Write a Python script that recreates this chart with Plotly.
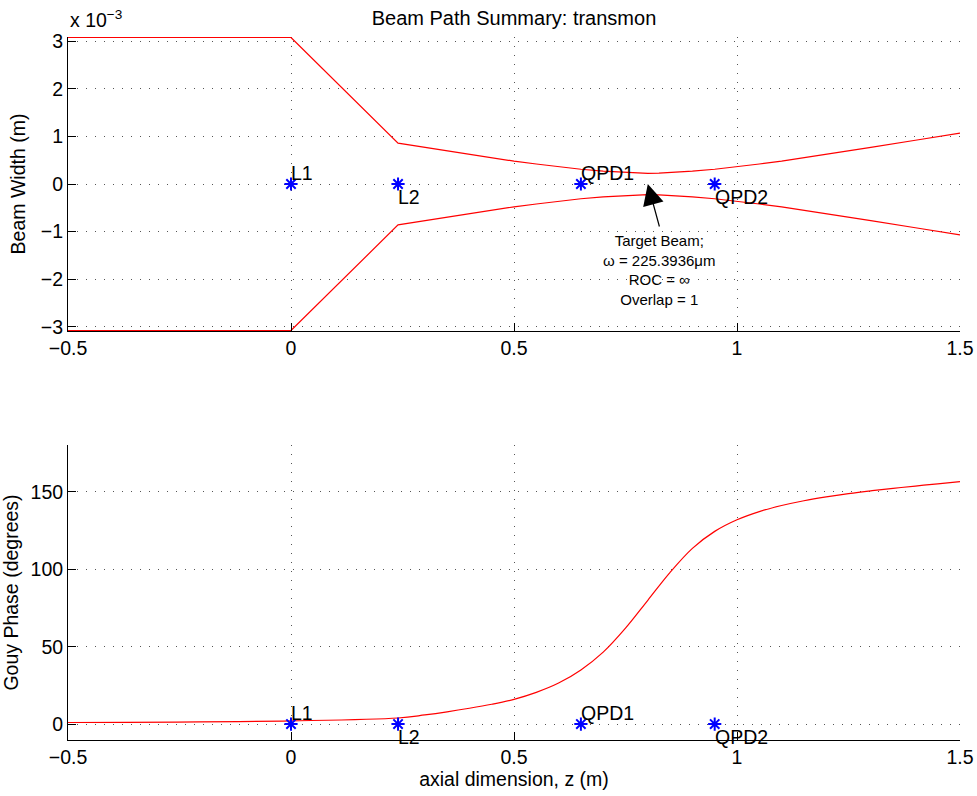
import plotly.graph_objects as go

# ---- data ----
width_z = [-0.5, 0.0, 0.24, 0.30, 0.35, 0.40, 0.45, 0.50, 0.55, 0.60, 0.65, 0.70, 0.75, 0.775,
           0.80, 0.825, 0.85, 0.90, 0.95, 1.00, 1.05, 1.10, 1.20, 1.30, 1.40, 1.50]
width_mm = [3.08, 3.08, 0.86, 0.77, 0.69, 0.62, 0.55, 0.48, 0.42, 0.36, 0.31, 0.27, 0.24, 0.229,
            0.225, 0.229, 0.24, 0.27, 0.31, 0.36, 0.42, 0.48, 0.62, 0.77, 0.92, 1.07]
width_lower_mm = [-w for w in width_mm]

gouy_z = [-0.5, 0.0, 0.24, 0.30, 0.35, 0.40, 0.45, 0.50, 0.55, 0.60, 0.65, 0.70, 0.75,
          0.80, 0.85, 0.90, 0.95, 1.00, 1.05, 1.10, 1.15, 1.20, 1.25, 1.30, 1.35, 1.40, 1.45, 1.50]
gouy_deg = [1.0, 2.1, 3.9, 5.9, 7.9, 10.2, 12.8, 16.0, 20.5, 26.5, 35.0, 46.5, 62.0,
            80.0, 98.0, 113.5, 124.5, 132.0, 137.3, 141.2, 144.3, 146.8, 148.9, 150.7, 152.3, 153.8, 155.2, 156.6]

elements = ["L1", "L2", "QPD1", "QPD2"]
element_z = [0.0, 0.24, 0.65, 0.95]
element_y = [0.0, 0.0, 0.0, 0.0]
label_side = [1, -1, 1, -1]  # above / below

target_z = 0.8
target_text = "Target Beam;<br>ω = 225.3936μm<br>ROC = ∞<br>Overlap = 1"

x_ticks = [-0.5, 0, 0.5, 1, 1.5]
x_ticktext = ["−0.5", "0", "0.5", "1", "1.5"]
y1_ticks = [-3, -2, -1, 0, 1, 2, 3]
y2_ticks = [0, 50, 100, 150]

FONT = "Liberation Sans, Arial, Helvetica, sans-serif"
RED = "#ff0000"
BLUE = "#0000ff"
FS = 19.5

W, H = 977, 796

fig = go.Figure()
fig.add_trace(go.Scatter(x=width_z, y=width_mm, mode="lines", line=dict(color=RED, width=1.2),
                         xaxis="x", yaxis="y", showlegend=False))
fig.add_trace(go.Scatter(x=width_z, y=width_lower_mm, mode="lines", line=dict(color=RED, width=1.2),
                         xaxis="x", yaxis="y", showlegend=False))
fig.add_trace(go.Scatter(x=element_z, y=element_y, mode="markers",
                         marker=dict(symbol="asterisk-open", size=11, color=BLUE, line=dict(color=BLUE, width=2)),
                         xaxis="x", yaxis="y", showlegend=False))
fig.add_trace(go.Scatter(x=gouy_z, y=gouy_deg, mode="lines",
                         line=dict(color=RED, width=1.2, shape="spline", smoothing=1.0),
                         xaxis="x2", yaxis="y2", showlegend=False))
fig.add_trace(go.Scatter(x=element_z, y=element_y, mode="markers",
                         marker=dict(symbol="asterisk-open", size=11, color=BLUE, line=dict(color=BLUE, width=2)),
                         xaxis="x2", yaxis="y2", showlegend=False))

ax_common = dict(showline=True, linecolor="black", linewidth=1, mirror=False,
                 ticks="inside", ticklen=8, tickcolor="black", tickwidth=1,
                 showgrid=True, gridcolor="#555555", gridwidth=1, griddash="1px,8px",
                 zeroline=False, automargin=False, ticklabeloverflow="allow",
                 tickfont=dict(family=FONT, size=FS, color="black"))

fig.update_layout(
    width=W, height=H,
    paper_bgcolor="white", plot_bgcolor="white",
    margin=dict(l=68, r=17, t=37, b=56, autoexpand=False),
    font=dict(family=FONT, color="black"),
    title=dict(text="Beam Path Summary: transmon", x=514 / W, xanchor="center",
               y=1 - 18 / H, yanchor="middle", yref="container",
               font=dict(family=FONT, size=20, color="black")),
    xaxis=dict(domain=[0, 1], anchor="y", range=[-0.5, 1.5], tickvals=x_ticks, ticktext=x_ticktext, **ax_common),
    yaxis=dict(domain=[0.5818, 1], anchor="x", range=[-3.09, 3.09], tickvals=y1_ticks,
               title=dict(text="Beam Width (m)", standoff=10, font=dict(family=FONT, size=FS)), **ax_common),
    xaxis2=dict(domain=[0, 1], anchor="y2", range=[-0.5, 1.5], tickvals=x_ticks, ticktext=x_ticktext,
                title=dict(text="axial dimension, z (m)", standoff=4, font=dict(family=FONT, size=FS)), **ax_common),
    yaxis2=dict(domain=[0, 0.4196], anchor="x2", range=[-10.3, 180.3], tickvals=y2_ticks,
                title=dict(text="Gouy Phase (degrees)", standoff=10, font=dict(family=FONT, size=FS)), **ax_common),
)

annotations = []
for name, z, y, side in zip(elements, element_z, element_y, label_side):
    for xr, yr in (("x", "y"), ("x2", "y2")):
        annotations.append(dict(x=z, y=y, xref=xr, yref=yr, text=name, showarrow=False,
                                xanchor="left", yanchor="middle", xshift=-2,
                                yshift=11 if side > 0 else -13,
                                font=dict(family=FONT, size=FS, color="black")))

# exponent label
annotations.append(dict(x=0, y=1, xref="paper", yref="paper", text="x 10<sup>−3</sup>",
                        showarrow=False, xanchor="left", yanchor="bottom", yshift=4,
                        font=dict(family=FONT, size=FS, color="black")))

# target beam arrow and text
annotations.append(dict(x=target_z, y=0, xref="x", yref="y", text="", showarrow=True,
                        ax=12, ay=44, axref="pixel", ayref="pixel",
                        arrowhead=2, arrowsize=3.5, arrowwidth=1.2, arrowcolor="black"))
annotations.append(dict(x=target_z, y=0, xref="x", yref="y", text=target_text, showarrow=False,
                        xanchor="center", yanchor="top", xshift=12, yshift=-46,
                        font=dict(family=FONT, size=15, color="black")))

fig.update_layout(annotations=annotations)

fig.write_html("out.html", config={"displayModeBar": False},
               post_script="document.body.style.margin='0';")
